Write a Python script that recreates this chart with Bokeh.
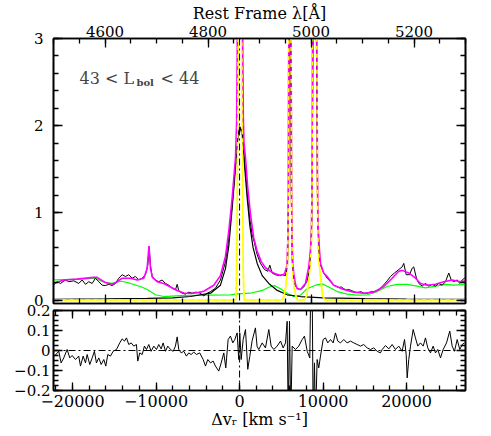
from bokeh.plotting import figure
from bokeh.models import (Range1d, LinearAxis, SingleIntervalTicker, Span, Label,
                          CustomJSTickFormatter)
from bokeh.layouts import column
from bokeh.embed import file_html
from bokeh.resources import INLINE

# ---------------- axis settings ----------------
C_KMS = 299792.458
LAM0 = 4861.3
LAM_RANGE = (4500.0, 5300.0)
V_RANGE = (C_KMS * (LAM_RANGE[0] / LAM0 - 1.0), C_KMS * (LAM_RANGE[1] / LAM0 - 1.0))
FLUX_RANGE = (-0.04, 3.0)
RES_RANGE = (-0.2, 0.2)
LAM_TICK = 200
V_TICK = 10000

TITLE_TOP = "Rest Frame λ[Å]"
TITLE_BOTTOM = "Δvᵣ [km s⁻¹]"
LBOL_TEXT = ["43 < L", "bol", "< 44"]

# ---------------- data (velocity km/s, normalised flux) ----------------
# observed spectrum
spec_v = [-22250, -21840, -21450, -20850, -20450, -19850, -19260, -18850, -18450, -18060,
          -17650, -17260, -16860, -16450, -16060, -15660, -15260, -14860, -14470, -14060,
          -13660, -13270, -12860, -12470, -12070, -11660, -11270, -10990, -10830, -10670,
          -10470, -10070, -9680, -9270, -8870, -8480, -8070, -7680, -7470, -7280,
          -6870, -6480, -6080, -5680, -5280, -4890, -4600, -4290, -3880, -3480,
          -2890, -2290, -1690, -1290, -890, -490, -215, 25, 310, 620,
          910, 1220, 1510, 1780, 1950, 2110, 2500, 2980, 3380, 3620,
          3900, 4300, 4690, 5100, 5500, 5750, 5880, 5960, 6030, 6100,
          6180, 6300, 6490, 6700, 6900, 7290, 7690, 8100, 8400, 8650,
          8820, 9000, 9180, 9350, 9550, 9690, 10080, 10490, 10885, 11280,
          11880, 12180, 12480, 12780, 13080, 13380, 13680, 13980, 14270, 14570,
          14870, 15170, 15470, 15770, 16070, 16370, 16670, 17270, 17680, 18070,
          18550, 19060, 19470, 19660, 19950, 20350, 20670, 20860, 21180, 21460,
          21870, 22260, 22660, 23060, 23460, 23850, 24260, 24660, 25050, 25340,
          25650, 26060, 26370, 26660, 26930, 27054]
spec_f = [0.174, 0.21, 0.19, 0.23, 0.21, 0.22, 0.19, 0.23, 0.18, 0.21,
          0.19, 0.25, 0.21, 0.17, 0.166, 0.18, 0.166, 0.19, 0.25, 0.29,
          0.27, 0.29, 0.25, 0.27, 0.23, 0.25, 0.29, 0.40, 0.61, 0.40,
          0.27, 0.23, 0.21, 0.23, 0.19, 0.17, 0.135, 0.117, 0.18, 0.105,
          0.078, 0.067, 0.09, 0.078, 0.09, 0.085, 0.07, 0.048, 0.078, 0.097,
          0.135, 0.23, 0.44, 0.71, 1.09, 1.55, 1.86, 1.99, 1.93, 1.59,
          1.24, 0.94, 0.75, 0.66, 0.58, 0.52, 0.42, 0.35, 0.33, 0.40,
          0.31, 0.29, 0.28, 0.29, 0.28, 0.40, 1.3, 3.2, 4.2, 3.2,
          1.3, 0.45, 0.25, 0.16, 0.135, 0.12, 0.15, 0.22, 0.38, 0.9,
          3.2, 12.0, 3.2, 0.9, 0.5, 0.40, 0.31, 0.25, 0.21, 0.17,
          0.143, 0.15, 0.13, 0.115, 0.12, 0.11, 0.097, 0.085, 0.09, 0.095,
          0.078, 0.075, 0.085, 0.095, 0.097, 0.105, 0.117, 0.174, 0.22, 0.27,
          0.31, 0.35, 0.38, 0.42, 0.29, 0.29, 0.365, 0.38, 0.25, 0.19,
          0.16, 0.19, 0.16, 0.18, 0.16, 0.19, 0.17, 0.21, 0.31, 0.23,
          0.21, 0.23, 0.19, 0.23, 0.25, 0.24]

# total model (magenta)
tot_v = [-22281, -21050, -19450, -17500, -17050, -16060, -15260, -14660, -14060, -13060,
         -12260, -11470, -11070, -10850, -10670, -10430, -9870, -9080, -8270, -7470,
         -6680, -5880, -5000, -4290, -3090, -2290, -1690, -1290, -890, -490,
         -350, -280, -220, -150, 50, 250, 320, 380, 450, 530,
         710, 980, 1310, 1700, 2110, 2590, 3100, 3700, 4300, 4900,
         5380, 5680, 5780, 5830, 5880, 5930, 6030, 6130, 6180, 6230,
         6280, 6380, 6490, 6700, 6900, 7290, 7890, 8265, 8450, 8600,
         8680, 8750, 8850, 9000, 9150, 9250, 9320, 9400, 9550, 9690,
         10080, 10490, 11280, 12480, 13680, 14870, 16070, 17270, 18270, 19060,
         19470, 20260, 21070, 21660, 22460, 23460, 24450, 25460, 26450, 27054]
tot_f = [0.19, 0.23, 0.24, 0.26, 0.26, 0.20, 0.18, 0.21, 0.25, 0.25,
         0.23, 0.25, 0.36, 0.62, 0.36, 0.26, 0.21, 0.19, 0.15, 0.11,
         0.08, 0.075, 0.085, 0.10, 0.17, 0.28, 0.50, 0.79, 1.17, 1.63,
         2.05, 2.85, 4.1, 5.2, 5.65, 5.2, 4.15, 2.9, 2.1, 1.8,
         1.63, 1.29, 0.98, 0.71, 0.56, 0.44, 0.37, 0.33, 0.30, 0.28,
         0.30, 0.40, 0.70, 1.3, 2.7, 3.7, 4.9, 3.7, 2.7, 1.3,
         0.70, 0.42, 0.30, 0.18, 0.13, 0.12, 0.19, 0.37, 0.52, 0.75,
         1.4, 3.3, 6.6, 14.2, 6.6, 3.4, 1.5, 0.85, 0.6, 0.42,
         0.31, 0.27, 0.17, 0.12, 0.09, 0.078, 0.09, 0.155, 0.25, 0.33,
         0.34, 0.31, 0.25, 0.19, 0.17, 0.18, 0.21, 0.23, 0.21, 0.22]

# broad H-beta component (black smooth)
brd_v = [-22281, -16000, -11000, -8000, -5880, -3480, -2290, -1690, -1290, -890,
         -490, -170, 40, 310, 620, 910, 1220, 1620, 2110, 2710,
         3500, 4510, 5700, 7290, 10080, 15000, 20000, 27054]
brd_f = [0.008, 0.012, 0.018, 0.025, 0.04, 0.078, 0.17, 0.36, 0.62, 1.05,
         1.51, 1.90, 1.98, 1.90, 1.51, 1.17, 0.86, 0.60, 0.42, 0.28,
         0.19, 0.11, 0.06, 0.04, 0.025, 0.015, 0.01, 0.008]

# narrow components (yellow)
nar_v = [-22281, -500, -430, -350, -280, -220, -150, 50, 250, 320,
         380, 450, 530, 600, 5130, 5330, 5530, 5680, 5780, 5830,
         5880, 5930, 6030, 6130, 6180, 6230, 6280, 6380, 6530, 6730,
         6930, 7800, 8050, 8265, 8450, 8600, 8680, 8750, 8850, 9000,
         9150, 9250, 9320, 9400, 9550, 9735, 9950, 10200, 27054]
nar_f = [0.0, 0.0, 0.03, 0.3, 1.0, 2.2, 3.2, 3.6, 3.2, 2.2,
         1.0, 0.3, 0.03, 0.0, 0.0, 0.05, 0.15, 0.3, 0.6, 1.2,
         2.6, 3.6, 4.8, 3.6, 2.6, 1.2, 0.6, 0.3, 0.15, 0.05,
         0.0, 0.0, 0.05, 0.22, 0.4, 0.63, 1.3, 3.2, 6.5, 14.0,
         6.5, 3.2, 1.3, 0.63, 0.4, 0.22, 0.05, 0.0, 0.0]

# Fe II / other broad components (green)
grn_v = [-22281, -21000, -19500, -18200, -17260, -16600, -16060, -15260, -14660, -14060,
         -13060, -11870, -11060, -10070, -9080, -7080, -3880, -1090, -290, 1310,
         2710, 3700, 4180, 4900, 5700, 6490, 7290, 8100, 9090, 9890,
         10680, 11690, 12890, 14080, 15280, 16480, 17680, 18870, 20070, 21270,
         22260, 23460, 24660, 25650, 27054]
grn_f = [0.23, 0.235, 0.24, 0.245, 0.25, 0.22, 0.20, 0.19, 0.205, 0.215,
         0.19, 0.155, 0.12, 0.06, 0.04, 0.05, 0.055, 0.06, 0.07, 0.078,
         0.11, 0.155, 0.165, 0.13, 0.078, 0.04, 0.055, 0.13, 0.17, 0.185,
         0.15, 0.097, 0.067, 0.056, 0.06, 0.097, 0.155, 0.18, 0.18, 0.16,
         0.14, 0.16, 0.18, 0.17, 0.18]

# residuals (lower panel)
res_v = [-22170, -21650, -21370, -21050, -20650, -20330, -20050, -19650, -19260, -19050,
         -18730, -18450, -18250, -17940, -17650, -17380, -17140, -16860, -16570, -16260,
         -16020, -15780, -15460, -15140, -14740, -14350, -14060, -13780, -13540, -13270,
         -12980, -12670, -12350, -12190, -11950, -11660, -11390, -11150, -10870, -10590,
         -10270, -9950, -9680, -9390, -9150, -8870, -8600, -8270, -7950, -7680,
         -7470, -7280, -6990, -6680, -6360, -6080, -5800, -5480, -5160, -4770,
         -4360, -4080, -3810, -3480, -3160, -2890, -2490, -2200, -1890, -1650,
         -1370, -1090, -810, -570, -290, -100, 25, 190, 430, 710,
         980, 1220, 1510, 1900, 2100, 2300, 2710, 3100, 3500, 3780,
         4100, 4500, 4900, 5220, 5500, 5700, 5820, 5980, 6130, 6300,
         6690, 7090, 7500, 7770, 8100, 8410, 8530, 8690, 8810, 8970,
         9090, 9290, 9480, 9690, 10010, 10290, 10560, 10890, 11210, 11480,
         11760, 12080, 12480, 12880, 13280, 13680, 14080, 14480, 14870, 15280,
         15680, 16070, 16480, 16870, 17080, 17470, 17870, 18270, 18670, 19060,
         19470, 19750, 19950, 20070, 20260, 20470, 20790, 21060, 21340, 21660,
         21990, 22260, 22540, 22860, 23180, 23460, 23730, 24060, 24380, 24780,
         25170, 25460, 25730, 26060, 26370, 26660, 26930]
res_r = [-0.028, -0.004, -0.062, -0.037, 0.005, -0.037, -0.025, -0.045, -0.028, -0.078,
         -0.028, -0.062, -0.02, -0.07, -0.037, -0.004, -0.062, -0.037, -0.07, -0.045,
         -0.078, -0.02, -0.028, -0.004, 0.005, 0.038, 0.058, 0.047, 0.063, 0.03,
         0.038, 0.022, 0.03, -0.053, -0.012, -0.02, 0.022, 0.005, 0.03, -0.004,
         0.022, 0.005, 0.03, 0.008, 0.038, -0.004, 0.022, 0.005, -0.004, 0.022,
         0.068, 0.005, -0.012, -0.004, -0.028, -0.012, -0.02, -0.008, -0.02, -0.012,
         -0.045, -0.078, -0.045, -0.062, -0.053, -0.078, -0.103, -0.062, -0.012, -0.087,
         0.055, 0.072, 0.038, 0.055, 0.088, -0.045, 0.088, -0.045, 0.055, 0.105,
         -0.094, -0.03, 0.05, 0.113, 0.02, 0.005, 0.038, 0.013, 0.105, 0.022,
         0.005, 0.022, 0.047, 0.013, 0.038, 0.146, -0.35, 0.146, -0.35, 0.022,
         0.005, 0.022, 0.055, 0.072, -0.004, -0.037, 0.35, 0.35, -0.35, -0.062,
         -0.35, -0.045, -0.087, -0.028, 0.055, 0.063, 0.038, 0.055, 0.038, 0.088,
         0.047, 0.038, 0.055, 0.038, 0.047, 0.038, 0.03, 0.022, 0.03, 0.013,
         0.005, 0.013, -0.004, -0.012, 0.005, 0.025, 0.008, 0.03, 0.005, 0.022,
         -0.004, 0.055, -0.02, -0.137, -0.045, 0.022, 0.105, 0.063, 0.022, 0.038,
         0.022, 0.063, 0.013, -0.012, 0.022, -0.012, 0.005, -0.037, 0.005, 0.038,
         0.097, 0.022, -0.004, 0.055, 0.005, 0.03, 0.038]

# ---------------- styling helpers ----------------
FONT = "DejaVu Serif"
MAGENTA = "#ff00ff"
YELLOW = "#ffff00"
GREEN = "#00ff00"

fmt_int = CustomJSTickFormatter(code="return tick.toFixed(0);")
fmt_signed_int = CustomJSTickFormatter(
    code="return (tick < 0 ? '\u2212' : '') + Math.abs(tick).toFixed(0);")
fmt_res = CustomJSTickFormatter(
    code="var a = Math.abs(tick); var s = a < 1e-9 ? '0' : a.toFixed(1);"
         "return (tick < -1e-9 ? '\u2212' : '') + s;")


def make_axis(interval, minor, labels, formatter=None, range_name=None,
              major_in=9, minor_in=5, standoff=4, label_size="15px", title_size="16px"):
    kw = {}
    if range_name is not None:
        kw["x_range_name"] = range_name
    ax = LinearAxis(ticker=SingleIntervalTicker(interval=interval, num_minor_ticks=minor), **kw)
    if formatter is not None:
        ax.formatter = formatter
    ax.major_tick_in = major_in
    ax.major_tick_out = 0
    ax.minor_tick_in = minor_in
    ax.minor_tick_out = 0
    ax.axis_line_width = 1.6
    ax.axis_line_color = "black"
    ax.major_tick_line_width = 1.3
    ax.minor_tick_line_width = 1.3
    ax.major_label_text_font = FONT
    ax.major_label_text_color = "black"
    ax.axis_label_text_font = FONT
    ax.axis_label_text_font_style = "normal"
    ax.axis_label_text_font_size = title_size
    ax.axis_label_text_color = "black"
    ax.axis_label_standoff = 0
    if labels:
        ax.major_label_text_font_size = label_size
        ax.major_label_standoff = standoff
    else:
        ax.major_label_text_font_size = "0px"
        ax.major_label_text_color = None
        ax.major_label_standoff = 0
    return ax


x_range = Range1d(*V_RANGE)

# ---------------- top panel ----------------
p1 = figure(frame_width=412, frame_height=265, x_range=x_range, y_range=Range1d(*FLUX_RANGE),
            x_axis_location=None, y_axis_location=None, output_backend="svg",
            toolbar_location=None, min_border_left=53, min_border_right=14,
            min_border_top=37, min_border_bottom=6)
p1.extra_x_ranges = {"lam": Range1d(*LAM_RANGE)}
p1.grid.visible = False
p1.outline_line_color = "black"
p1.outline_line_width = 1.6

tax = make_axis(LAM_TICK, 4, True, fmt_int, "lam", standoff=2, label_size="15px",
                title_size="16px")
tax.axis_label = TITLE_TOP
p1.add_layout(tax, "above")
p1.add_layout(make_axis(LAM_TICK, 4, False, None, "lam"), "below")
p1.add_layout(make_axis(1, 5, True, fmt_int, standoff=10, label_size="15px"), "left")
p1.add_layout(make_axis(1, 5, False), "right")

p1.line(grn_v, grn_f, line_color=GREEN, line_width=1.2)
p1.line(brd_v, brd_f, line_color="black", line_width=1.2)
p1.line(nar_v, nar_f, line_color=YELLOW, line_width=1.6)
p1.line(spec_v, spec_f, line_color="black", line_width=1.0)
p1.line(tot_v, tot_f, line_color=MAGENTA, line_width=1.6)
p1.line(nar_v, nar_f, line_color=YELLOW, line_width=1.6, line_dash="4 4")
p1.add_layout(Span(location=0, dimension="height", line_color="black",
                   line_width=1.0, line_dash="7 3 2 3"))

p1.add_layout(Label(x=-19170, y=2.54, text=LBOL_TEXT[0], text_font=FONT,
                    text_font_size="16px", text_baseline="alphabetic"))
p1.add_layout(Label(x=-12350, y=2.495, text=LBOL_TEXT[1], text_font=FONT,
                    text_font_size="10px", text_font_style="bold", text_baseline="alphabetic"))
p1.add_layout(Label(x=-9470, y=2.54, text=LBOL_TEXT[2], text_font=FONT,
                    text_font_size="16px", text_baseline="alphabetic"))

# ---------------- bottom panel ----------------
p2 = figure(frame_width=412, frame_height=80, x_range=x_range, y_range=Range1d(*RES_RANGE),
            x_axis_location=None, y_axis_location=None, output_backend="svg",
            toolbar_location=None, min_border_left=53, min_border_right=14,
            min_border_top=9, min_border_bottom=0)
p2.grid.visible = False
p2.outline_line_color = "black"
p2.outline_line_width = 1.6
p2.border_fill_alpha = 0.0
p2.background_fill_alpha = 0.0
p2.styles = {"margin-top": "-8px"}

bax = make_axis(V_TICK, 5, True, fmt_signed_int, major_in=8, minor_in=5, standoff=4,
                label_size="16px", title_size="16px")
bax.axis_label = TITLE_BOTTOM
p2.add_layout(bax, "below")
p2.add_layout(make_axis(V_TICK, 5, False, major_in=8, minor_in=5), "above")
p2.add_layout(make_axis(0.1, 4, True, fmt_res, standoff=3, label_size="15px"), "left")
p2.add_layout(make_axis(0.1, 4, False), "right")

p2.line(res_v, res_r, line_color="black", line_width=1.0)
p2.add_layout(Span(location=0, dimension="width", line_color="black",
                   line_width=1.0, line_dash="7 3 2 3"))
p2.add_layout(Span(location=0, dimension="height", line_color="black",
                   line_width=1.0, line_dash="7 3 2 3"))

layout = column(p1, p2)
open("out.html", "w").write(file_html(layout, INLINE))
